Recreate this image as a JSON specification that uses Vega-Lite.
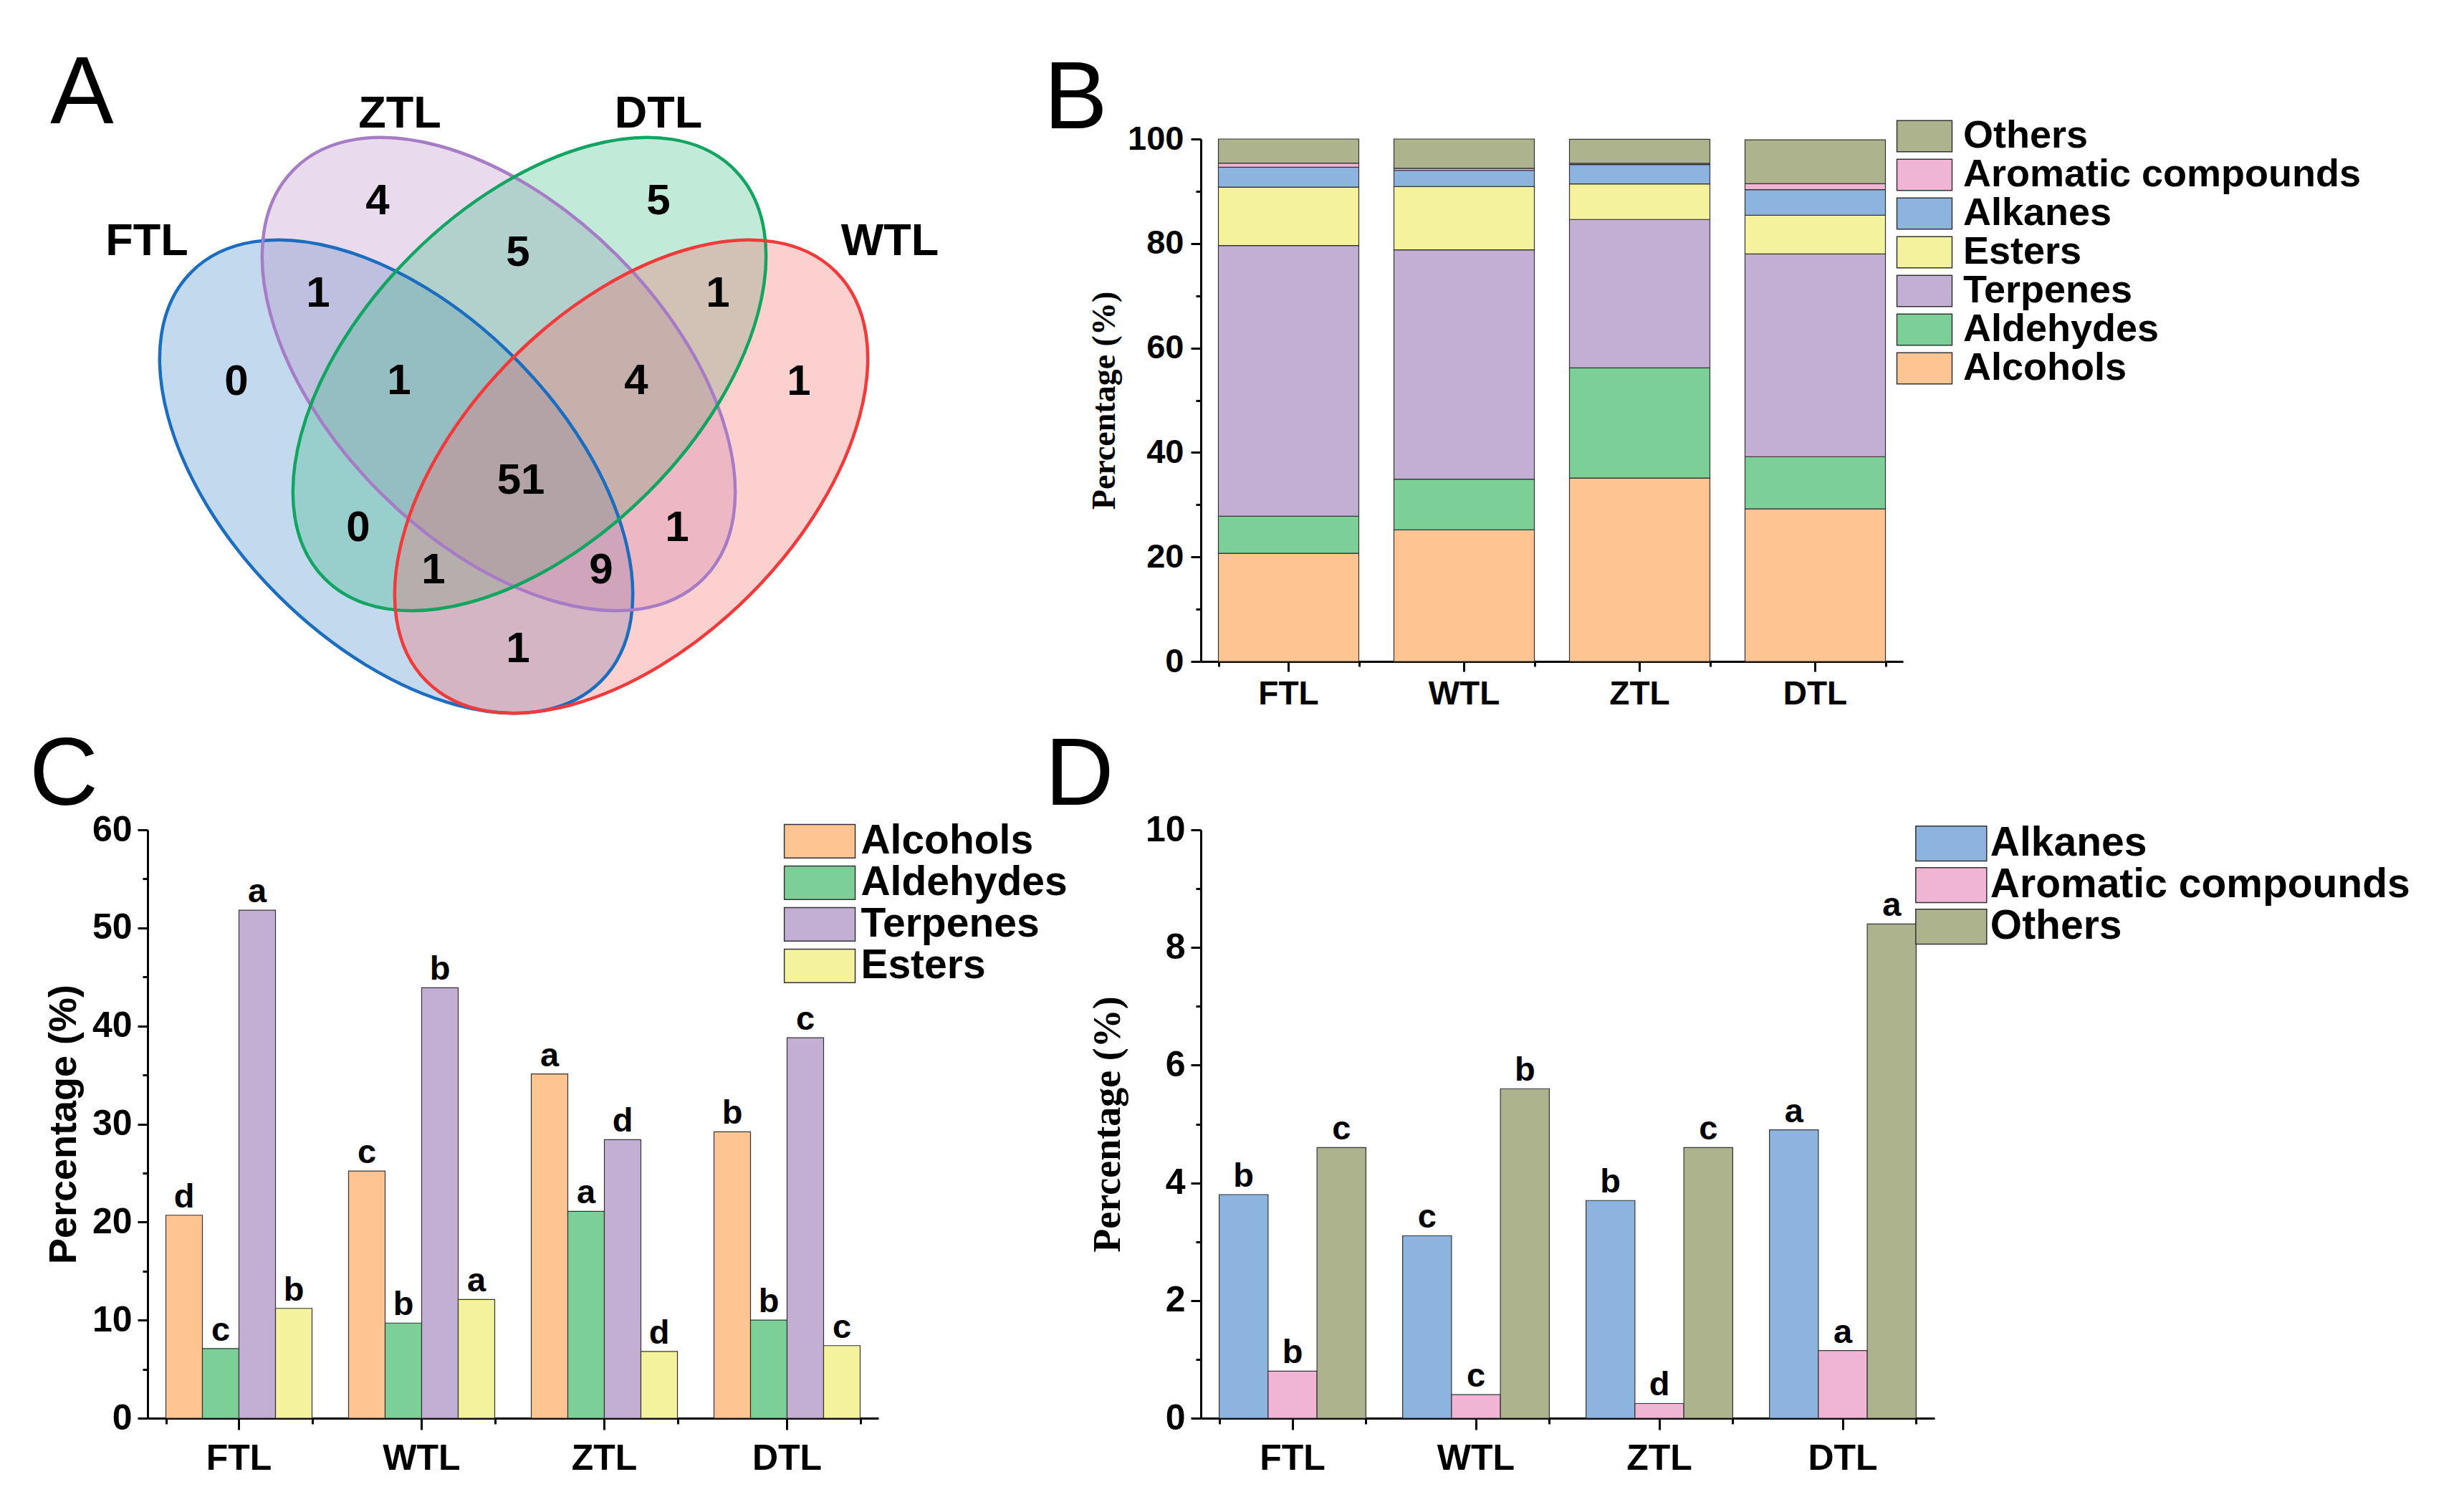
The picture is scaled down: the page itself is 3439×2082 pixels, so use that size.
{
  "$schema": "https://vega.github.io/schema/vega-lite/v6.json",
  "background": "white",
  "padding": {"left": 41, "top": 66, "right": 5, "bottom": 5},
  "bounds": "flush",
  "columns": 2,
  "align": {"row": "each", "column": "none"},
  "spacing": {"row": 235, "column": 437},
  "config": {
    "view": {"stroke": null},
    "font": "Liberation Sans",
    "axis": {"grid": false, "domainColor": "#000", "domainWidth": 3, "tickColor": "#000", "tickWidth": 3, "labelColor": "#000", "labelFont": "Liberation Sans", "labelFontWeight": "bold", "titleColor": "#000", "labelAngle": 0},
    "title": {"font": "Liberation Sans", "fontWeight": "normal", "fontSize": 133, "anchor": "start", "frame": "group", "offset": 0, "color": "#000"},
    "legend": {"padding": 0, "labelFont": "Liberation Sans", "labelFontWeight": "bold", "labelFontSize": 60, "labelColor": "#000", "symbolStrokeColor": "#333", "symbolStrokeWidth": 1.5, "symbolOpacity": 1, "labelLimit": 2000, "orient": "none", "rowPadding": 0}
  },
  "datasets": {
    "comp": [
      {"s": "FTL", "c": "Alcohols", "v": 20.7, "k": 1, "sig": "d"},
      {"s": "FTL", "c": "Aldehydes", "v": 7.1, "k": 2, "sig": "c"},
      {"s": "FTL", "c": "Terpenes", "v": 51.8, "k": 3, "sig": "a"},
      {"s": "FTL", "c": "Esters", "v": 11.2, "k": 4, "sig": "b"},
      {"s": "FTL", "c": "Alkanes", "v": 3.8, "k": 5, "sig": "b"},
      {"s": "FTL", "c": "Aromatic compounds", "v": 0.8, "k": 6, "sig": "b"},
      {"s": "FTL", "c": "Others", "v": 4.6, "k": 7, "sig": "c"},
      {"s": "WTL", "c": "Alcohols", "v": 25.2, "k": 1, "sig": "c"},
      {"s": "WTL", "c": "Aldehydes", "v": 9.7, "k": 2, "sig": "b"},
      {"s": "WTL", "c": "Terpenes", "v": 43.9, "k": 3, "sig": "b"},
      {"s": "WTL", "c": "Esters", "v": 12.1, "k": 4, "sig": "a"},
      {"s": "WTL", "c": "Alkanes", "v": 3.1, "k": 5, "sig": "c"},
      {"s": "WTL", "c": "Aromatic compounds", "v": 0.4, "k": 6, "sig": "c"},
      {"s": "WTL", "c": "Others", "v": 5.6, "k": 7, "sig": "b"},
      {"s": "ZTL", "c": "Alcohols", "v": 35.1, "k": 1, "sig": "a"},
      {"s": "ZTL", "c": "Aldehydes", "v": 21.1, "k": 2, "sig": "a"},
      {"s": "ZTL", "c": "Terpenes", "v": 28.4, "k": 3, "sig": "d"},
      {"s": "ZTL", "c": "Esters", "v": 6.8, "k": 4, "sig": "d"},
      {"s": "ZTL", "c": "Alkanes", "v": 3.7, "k": 5, "sig": "b"},
      {"s": "ZTL", "c": "Aromatic compounds", "v": 0.25, "k": 6, "sig": "d"},
      {"s": "ZTL", "c": "Others", "v": 4.6, "k": 7, "sig": "c"},
      {"s": "DTL", "c": "Alcohols", "v": 29.2, "k": 1, "sig": "b"},
      {"s": "DTL", "c": "Aldehydes", "v": 10.0, "k": 2, "sig": "b"},
      {"s": "DTL", "c": "Terpenes", "v": 38.8, "k": 3, "sig": "c"},
      {"s": "DTL", "c": "Esters", "v": 7.4, "k": 4, "sig": "c"},
      {"s": "DTL", "c": "Alkanes", "v": 4.9, "k": 5, "sig": "a"},
      {"s": "DTL", "c": "Aromatic compounds", "v": 1.15, "k": 6, "sig": "a"},
      {"s": "DTL", "c": "Others", "v": 8.4, "k": 7, "sig": "a"}
    ],
    "sets": [
      {"set": "FTL", "x": 553, "y": 668},
      {"set": "ZTL", "x": 696, "y": 525},
      {"set": "DTL", "x": 739, "y": 525},
      {"set": "WTL", "x": 881, "y": 668}
    ],
    "counts": [
      {"n": "0", "x": 330, "y": 536},
      {"n": "4", "x": 527, "y": 284},
      {"n": "5", "x": 919, "y": 284},
      {"n": "1", "x": 1115, "y": 536},
      {"n": "1", "x": 444, "y": 413},
      {"n": "5", "x": 723, "y": 356},
      {"n": "1", "x": 1002, "y": 413},
      {"n": "1", "x": 557, "y": 535},
      {"n": "4", "x": 888, "y": 535},
      {"n": "51", "x": 727, "y": 674},
      {"n": "0", "x": 500, "y": 740},
      {"n": "1", "x": 945, "y": 740},
      {"n": "1", "x": 605, "y": 799},
      {"n": "9", "x": 839, "y": 799},
      {"n": "1", "x": 723, "y": 909}
    ],
    "names": [
      {"name": "ZTL", "x": 558, "y": 162},
      {"name": "DTL", "x": 919, "y": 162},
      {"name": "FTL", "x": 205, "y": 340},
      {"name": "WTL", "x": 1242, "y": 340}
    ]
  },
  "resolve": {"scale": {"color": "independent", "fill": "independent", "stroke": "independent", "xOffset": "independent"}, "legend": {"color": "independent", "fill": "independent", "stroke": "independent"}},
  "concat": [
    {
      "width": 1033,
      "height": 729,
      "title": {"text": "A", "dx": -136, "dy": 76},
      "layer": [
        {
          "data": {"name": "sets"},
          "transform": [{"filter": {"field": "set", "oneOf": ["FTL", "ZTL"]}}],
          "mark": {"type": "point", "shape": "M-1,0A1,0.579,0,1,0,1,0A1,0.579,0,1,0,-1,0Z", "size": 652864, "filled": true, "opacity": 1, "fillOpacity": 0.3, "strokeWidth": 0, "angle": 45},
          "encoding": {
            "x": {"field": "x", "type": "quantitative", "scale": {"domain": [206, 1239], "nice": false, "zero": false}, "axis": null},
            "y": {"field": "y", "type": "quantitative", "scale": {"domain": [926, 197], "nice": false, "zero": false}, "axis": null},
            "fill": {"field": "set", "type": "nominal", "scale": {"domain": ["FTL", "ZTL", "DTL", "WTL"], "range": ["#3780c3", "#b687c3", "#34b980", "#f86262"]}, "legend": null}
          }
        },
        {
          "data": {"name": "sets"},
          "transform": [{"filter": {"field": "set", "oneOf": ["DTL", "WTL"]}}],
          "mark": {"type": "point", "shape": "M-1,0A1,0.579,0,1,0,1,0A1,0.579,0,1,0,-1,0Z", "size": 652864, "filled": true, "opacity": 1, "fillOpacity": 0.3, "strokeWidth": 0, "angle": -45},
          "encoding": {
            "x": {"field": "x", "type": "quantitative"},
            "y": {"field": "y", "type": "quantitative"},
            "fill": {"field": "set", "type": "nominal", "legend": null}
          }
        },
        {
          "data": {"name": "sets"},
          "transform": [{"filter": {"field": "set", "oneOf": ["FTL", "ZTL"]}}],
          "mark": {"type": "point", "shape": "M-1,0A1,0.579,0,1,0,1,0A1,0.579,0,1,0,-1,0Z", "size": 652864, "filled": false, "opacity": 1, "strokeWidth": 4.5, "angle": 45},
          "encoding": {
            "x": {"field": "x", "type": "quantitative"},
            "y": {"field": "y", "type": "quantitative"},
            "stroke": {"field": "set", "type": "nominal", "scale": {"domain": ["FTL", "ZTL", "DTL", "WTL"], "range": ["#1a6dbf", "#a67cc7", "#12a562", "#f23a3a"]}, "legend": null}
          }
        },
        {
          "data": {"name": "sets"},
          "transform": [{"filter": {"field": "set", "oneOf": ["DTL", "WTL"]}}],
          "mark": {"type": "point", "shape": "M-1,0A1,0.579,0,1,0,1,0A1,0.579,0,1,0,-1,0Z", "size": 652864, "filled": false, "opacity": 1, "strokeWidth": 4.5, "angle": -45},
          "encoding": {
            "x": {"field": "x", "type": "quantitative"},
            "y": {"field": "y", "type": "quantitative"},
            "stroke": {"field": "set", "type": "nominal", "legend": null}
          }
        },
        {
          "data": {"name": "counts"},
          "mark": {"type": "text", "fontSize": 60, "fontWeight": "bold", "font": "Liberation Sans", "color": "#000"},
          "encoding": {
            "x": {"field": "x", "type": "quantitative"},
            "y": {"field": "y", "type": "quantitative"},
            "text": {"field": "n"}
          }
        },
        {
          "data": {"name": "names"},
          "mark": {"type": "text", "fontSize": 63, "fontWeight": "bold", "font": "Liberation Sans", "color": "#000"},
          "encoding": {
            "x": {"field": "x", "type": "quantitative"},
            "y": {"field": "y", "type": "quantitative"},
            "text": {"field": "name"}
          }
        }
      ]
    },
    {
      "width": 980,
      "height": 729,
      "title": {"text": "B", "dx": -219, "dy": 48},
      "data": {"name": "comp"},
      "layer": [
        {
          "mark": {"type": "bar", "stroke": "#333", "strokeWidth": 1.2},
          "encoding": {
            "x": {"field": "s", "type": "nominal", "sort": ["FTL", "WTL", "ZTL", "DTL"], "scale": {"paddingInner": 0.2, "paddingOuter": 0.1}, "axis": {"title": null, "labelFontSize": 46, "labelPadding": 9, "tickSize": 14, "orient": "bottom"}},
            "y": {"field": "v", "type": "quantitative", "stack": "zero", "scale": {"domain": [0, 100], "nice": false}, "axis": {"values": [0, 20, 40, 60, 80, 100], "title": "Percentage (%)", "titleFont": "Liberation Serif", "titleFontWeight": "bold", "titleFontSize": 46, "titlePadding": 8, "labelFontSize": 47, "labelPadding": 10, "tickSize": 14, "orient": "left"}},
            "color": {"field": "c", "type": "nominal", "scale": {"domain": ["Others", "Aromatic compounds", "Alkanes", "Esters", "Terpenes", "Aldehydes", "Alcohols"], "range": ["#adb38c", "#f0b4d5", "#8cb4df", "#f5f29e", "#c4afd4", "#7dcf98", "#fec593"]}, "legend": {"title": null, "orient": "none", "legendX": 983, "legendY": -31, "symbolType": "M-2,-1.127H2V1.127H-2Z", "symbolSize": 1482, "labelOffset": 27, "labelFontSize": 54, "rowPadding": 0}},
            "order": {"field": "k", "type": "quantitative"}
          }
        },
        {
          "mark": {"type": "bar", "opacity": 0},
          "encoding": {
            "x": {"field": "s", "type": "nominal", "sort": ["FTL", "WTL", "ZTL", "DTL"], "axis": {"title": null, "tickBand": "extent", "labels": false, "domain": false, "tickSize": 7, "orient": "bottom"}},
            "y": {"field": "v", "type": "quantitative", "stack": null, "axis": {"title": null, "values": [10, 30, 50, 70, 90], "labels": false, "domain": false, "tickSize": 7, "orient": "left"}}
          }
        }
      ],
      "resolve": {"axis": {"x": "independent", "y": "independent"}}
    },
    {
      "width": 1020,
      "height": 821,
      "title": {"text": "C", "dx": -165, "dy": 22},
      "data": {"name": "comp"},
      "transform": [{"filter": {"field": "c", "oneOf": ["Alcohols", "Aldehydes", "Terpenes", "Esters"]}}],
      "layer": [
        {
          "mark": {"type": "bar", "stroke": "#333", "strokeWidth": 1.2},
          "encoding": {
            "x": {"field": "s", "type": "nominal", "sort": ["FTL", "WTL", "ZTL", "DTL"], "scale": {"paddingInner": 0.2, "paddingOuter": 0.1}, "axis": {"title": null, "labelFontSize": 50, "labelPadding": 15, "tickSize": 16, "orient": "bottom"}},
            "xOffset": {"field": "c", "type": "nominal", "scale": {"domain": ["Alcohols", "Aldehydes", "Terpenes", "Esters"], "paddingInner": 0, "paddingOuter": 0}},
            "y": {"field": "v", "type": "quantitative", "stack": null, "scale": {"domain": [0, 60], "nice": false}, "axis": {"values": [0, 10, 20, 30, 40, 50, 60], "title": "Percentage (%)", "titleFont": "Liberation Sans", "titleFontWeight": "bold", "titleFontSize": 54, "titlePadding": 12, "labelFontSize": 50, "labelPadding": 8, "tickSize": 14, "orient": "left"}},
            "color": {"field": "c", "type": "nominal", "scale": {"domain": ["Alcohols", "Aldehydes", "Terpenes", "Esters"], "range": ["#fec593", "#7dcf98", "#c4afd4", "#f5f29e"]}, "legend": {"title": null, "orient": "none", "legendX": 909.6, "legendY": -12.6, "symbolType": "M-2.04,-0.965H2.04V0.965H-2.04Z", "symbolSize": 2352, "labelOffset": 28.8, "labelFontSize": 57, "rowPadding": 0}}
          }
        },
        {
          "mark": {"type": "text", "baseline": "bottom", "fontSize": 47, "fontWeight": "bold", "dy": -1, "color": "#000"},
          "encoding": {
            "x": {"field": "s", "type": "nominal", "sort": ["FTL", "WTL", "ZTL", "DTL"], "axis": {"title": null, "tickBand": "extent", "labels": false, "domain": false, "tickSize": 8, "orient": "bottom"}},
            "xOffset": {"field": "c", "type": "nominal"},
            "y": {"field": "v", "type": "quantitative", "stack": null, "axis": {"title": null, "values": [5, 15, 25, 35, 45, 55], "labels": false, "domain": false, "tickSize": 7, "orient": "left"}},
            "text": {"field": "sig"}
          }
        }
      ],
      "resolve": {"axis": {"x": "independent", "y": "independent"}}
    },
    {
      "width": 1024,
      "height": 821,
      "title": {"text": "D", "dx": -217.6, "dy": 22},
      "data": {"name": "comp"},
      "transform": [{"filter": {"field": "c", "oneOf": ["Alkanes", "Aromatic compounds", "Others"]}}],
      "layer": [
        {
          "mark": {"type": "bar", "stroke": "#333", "strokeWidth": 1.2},
          "encoding": {
            "x": {"field": "s", "type": "nominal", "sort": ["FTL", "WTL", "ZTL", "DTL"], "scale": {"paddingInner": 0.2, "paddingOuter": 0.1}, "axis": {"title": null, "labelFontSize": 50, "labelPadding": 15, "tickSize": 16, "orient": "bottom"}},
            "xOffset": {"field": "c", "type": "nominal", "scale": {"domain": ["Alkanes", "Aromatic compounds", "Others"], "paddingInner": 0, "paddingOuter": 0}},
            "y": {"field": "v", "type": "quantitative", "stack": null, "scale": {"domain": [0, 10], "nice": false}, "axis": {"values": [0, 2, 4, 6, 8, 10], "title": "Percentage (%)", "titleFont": "Liberation Serif", "titleFontWeight": "bold", "titleFontSize": 54, "titlePadding": 25, "labelFontSize": 50, "labelPadding": 8, "tickSize": 14, "orient": "left"}},
            "color": {"field": "c", "type": "nominal", "scale": {"domain": ["Alkanes", "Aromatic compounds", "Others"], "range": ["#8cb4df", "#f0b4d5", "#adb38c"]}, "legend": {"title": null, "orient": "none", "legendX": 1018.8, "legendY": -9.4, "symbolType": "M-1.96,-0.964H1.96V0.964H-1.96Z", "symbolSize": 2550, "labelOffset": 26, "labelFontSize": 57, "rowPadding": 0}}
          }
        },
        {
          "mark": {"type": "text", "baseline": "bottom", "fontSize": 47, "fontWeight": "bold", "dy": -1, "color": "#000"},
          "encoding": {
            "x": {"field": "s", "type": "nominal", "sort": ["FTL", "WTL", "ZTL", "DTL"], "axis": {"title": null, "tickBand": "extent", "labels": false, "domain": false, "tickSize": 8, "orient": "bottom"}},
            "xOffset": {"field": "c", "type": "nominal"},
            "y": {"field": "v", "type": "quantitative", "stack": null, "axis": {"title": null, "values": [1, 3, 5, 7, 9], "labels": false, "domain": false, "tickSize": 7, "orient": "left"}},
            "text": {"field": "sig"}
          }
        }
      ],
      "resolve": {"axis": {"x": "independent", "y": "independent"}}
    }
  ]
}
